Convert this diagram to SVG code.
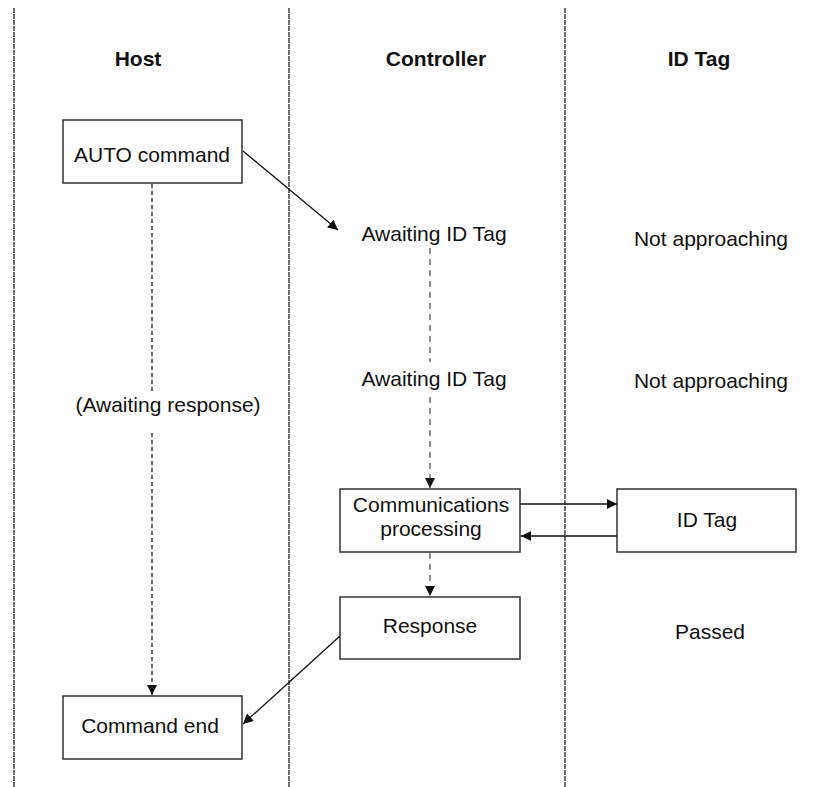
<svg xmlns="http://www.w3.org/2000/svg" width="831" height="787" viewBox="0 0 831 787">
<style>
text{font-family:"Liberation Sans",Arial,sans-serif;font-size:21px;fill:#111;text-anchor:middle}
.h{font-weight:bold}
.lane{stroke:#111;stroke-width:1.2;stroke-dasharray:5 1;fill:none}
.box{fill:#fff;stroke:#333;stroke-width:1.5}
.c{stroke:#111;stroke-width:1.3;fill:none}
.d{stroke:#222;stroke-width:1.3;fill:none;stroke-dasharray:4 3}
.d2{stroke:#555;stroke-width:1.3;fill:none;stroke-dasharray:6 5}
</style>
<defs>
<marker id="a" viewBox="0 0 10 10" refX="10" refY="5" markerWidth="11" markerHeight="10" markerUnits="userSpaceOnUse" orient="auto"><path d="M0,0 L10,5 L0,10 z" fill="#111"/></marker>
</defs>
<g id="lanes">
<line class="lane" x1="14" y1="8" x2="14" y2="787"/>
<line class="lane" x1="289" y1="8" x2="289" y2="787"/>
<line class="lane" x1="565" y1="8" x2="565" y2="787"/>
</g>
<g id="headers">
<text class="h" x="138" y="66">Host</text>
<text class="h" x="436" y="66">Controller</text>
<text class="h" x="699" y="66">ID Tag</text>
</g>
<g id="connectors">
<line class="c" x1="243" y1="151" x2="338" y2="230" marker-end="url(#a)"/>
<line class="d" x1="152" y1="184" x2="152" y2="394"/>
<line class="d" x1="152" y1="433" x2="152" y2="695" marker-end="url(#a)"/>
<line class="d2" x1="430" y1="248" x2="430" y2="362"/>
<line class="d2" x1="430" y1="397" x2="430" y2="488" marker-end="url(#a)"/>
<line class="c" x1="520" y1="504" x2="617" y2="504" marker-end="url(#a)"/>
<line class="c" x1="617" y1="536" x2="521" y2="536" marker-end="url(#a)"/>
<line class="d2" x1="430" y1="553" x2="430" y2="596" marker-end="url(#a)"/>
<line class="c" x1="340" y1="636" x2="243" y2="724" marker-end="url(#a)"/>
</g>
<g id="auto-command">
<rect class="box" x="63" y="120" width="179" height="63"/>
<text x="152" y="162">AUTO command</text>
</g>
<g id="awaiting-1"><text x="434" y="241">Awaiting ID Tag</text></g>
<g id="not-approaching-1"><text x="711" y="246">Not approaching</text></g>
<g id="awaiting-response"><text x="168" y="412">(Awaiting response)</text></g>
<g id="awaiting-2"><text x="434" y="386">Awaiting ID Tag</text></g>
<g id="not-approaching-2"><text x="711" y="388">Not approaching</text></g>
<g id="comm">
<rect class="box" x="340" y="489" width="180" height="63"/>
<text x="431" y="512">Communications</text>
<text x="431" y="536">processing</text>
</g>
<g id="idtag">
<rect class="box" x="617" y="489" width="179" height="63"/>
<text x="707" y="527">ID Tag</text>
</g>
<g id="response">
<rect class="box" x="340" y="597" width="180" height="62"/>
<text x="430" y="633">Response</text>
</g>
<g id="passed"><text x="710" y="639">Passed</text></g>
<g id="command-end">
<rect class="box" x="63" y="696" width="179" height="63"/>
<text x="150" y="733">Command end</text>
</g>
</svg>
